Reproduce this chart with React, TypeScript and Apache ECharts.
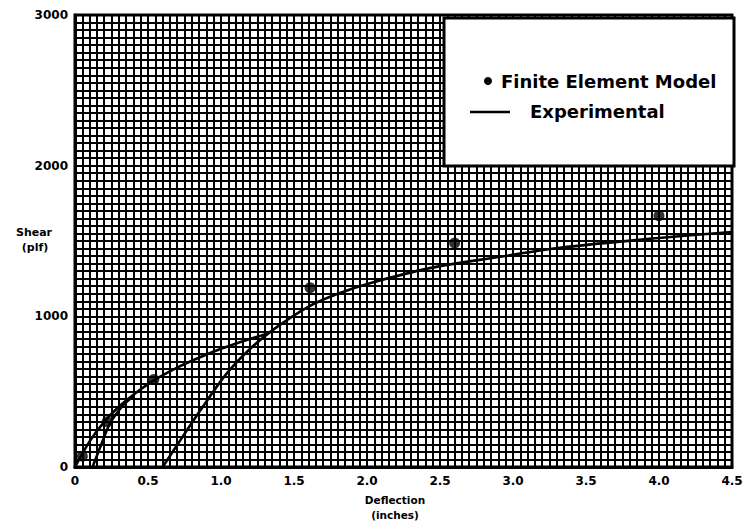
import React, { useEffect, useRef } from "react";
import * as echarts from "echarts";

// Finite Element Model (points)
const femX = [0.05, 0.22, 0.54, 1.61, 2.6, 4.0];
const femY = [72, 300, 580, 1190, 1486, 1668];

// Experimental curves (three branches)
const exp1X = [0, 0.1, 0.2, 0.3, 0.4, 0.54, 0.7, 0.86, 1.0, 1.15, 1.3];
const exp1Y = [0, 170, 300, 400, 480, 575, 660, 730, 785, 835, 880];

const exp2X = [0.12, 0.18, 0.24, 0.33, 0.4];
const exp2Y = [0, 150, 290, 410, 470];

const exp3X = [0.6, 0.73, 0.86, 1.03, 1.2, 1.37, 1.6, 1.8, 2.02, 2.43, 2.91, 3.32, 4.0, 4.5];
const exp3Y = [0, 190, 378, 610, 785, 920, 1065, 1150, 1220, 1320, 1395, 1455, 1520, 1560];

const xTickLabels = ["0", "0.5", "1.0", "1.5", "2.0", "2.5", "3.0", "3.5", "4.0", "4.5"];
const yTickLabels = ["0", "1000", "2000", "3000"];

const FONT = "DejaVu Sans";

function pairs(xs: number[], ys: number[]) {
  return xs.map((x, i) => [x, ys[i]]);
}

export default function App() {
  const ref = useRef<HTMLDivElement>(null);

  useEffect(() => {
    document.body.style.margin = "0";
    if (!ref.current) return;
    const chart = echarts.init(ref.current, undefined, { renderer: "svg" });
    const gridLine = { color: "#000", width: 2 };
    const lineSeries = (name: string, data: number[][]) => ({
      type: "line",
      name,
      data,
      smooth: 0.3,
      showSymbol: false,
      symbol: "none",
      lineStyle: { color: "#000", width: 2.6 },
      z: 5,
    });
    chart.setOption({
      animation: false,
      backgroundColor: "#fff",
      grid: {
        left: 75,
        right: 14,
        top: 15,
        bottom: 63,
        show: true,
        borderColor: "#000",
        borderWidth: 3,
      },
      xAxis: {
        type: "value",
        min: 0,
        max: 4.5,
        interval: 0.5,
        axisLine: { show: true, lineStyle: { color: "#000", width: 3 } },
        axisTick: { show: false },
        minorTick: { show: false, splitNumber: 10 },
        splitLine: { show: true, lineStyle: gridLine },
        minorSplitLine: { show: true, lineStyle: gridLine },
        axisLabel: {
          color: "#000",
          fontFamily: FONT,
          fontWeight: "bold",
          fontSize: 12,
          margin: 8,
          formatter: (v: number) => xTickLabels[Math.round(v / 0.5)] ?? "",
        },
      },
      yAxis: {
        type: "value",
        min: 0,
        max: 3000,
        interval: 1000,
        axisLine: { show: true, lineStyle: { color: "#000", width: 3 } },
        axisTick: { show: false },
        minorTick: { show: false, splitNumber: 20 },
        splitLine: { show: true, lineStyle: gridLine },
        minorSplitLine: { show: true, lineStyle: gridLine },
        axisLabel: {
          color: "#000",
          fontFamily: FONT,
          fontWeight: "bold",
          fontSize: 12,
          margin: 7,
          formatter: (v: number) => yTickLabels[Math.round(v / 1000)] ?? "",
        },
      },
      series: [
        lineSeries("Experimental", pairs(exp1X, exp1Y)),
        lineSeries("Experimental 2", pairs(exp2X, exp2Y)),
        lineSeries("Experimental 3", pairs(exp3X, exp3Y)),
        {
          type: "scatter",
          name: "Finite Element Model",
          data: pairs(femX, femY),
          symbol: "circle",
          symbolSize: 11,
          itemStyle: { color: "#000" },
          z: 6,
        },
      ],
      graphic: [
        {
          type: "rect",
          z: 100,
          shape: { x: 444, y: 18, width: 290, height: 148 },
          style: { fill: "#fff", stroke: "#000", lineWidth: 3 },
        },
        {
          type: "circle",
          z: 101,
          shape: { cx: 488, cy: 81, r: 4 },
          style: { fill: "#000" },
        },
        {
          type: "text",
          z: 101,
          x: 501,
          y: 81,
          style: {
            text: "Finite Element Model",
            fill: "#000",
            font: `bold 18px "${FONT}"`,
            verticalAlign: "middle",
            align: "left",
          },
        },
        {
          type: "line",
          z: 101,
          shape: { x1: 470, y1: 112, x2: 510, y2: 112 },
          style: { stroke: "#000", lineWidth: 2.5 },
        },
        {
          type: "text",
          z: 101,
          x: 530,
          y: 111,
          style: {
            text: "Experimental",
            fill: "#000",
            font: `bold 18px "${FONT}"`,
            verticalAlign: "middle",
            align: "left",
          },
        },
        {
          type: "text",
          x: 34,
          y: 232,
          style: {
            text: "Shear",
            fill: "#000",
            font: `bold 11px "${FONT}"`,
            align: "center",
            verticalAlign: "middle",
          },
        },
        {
          type: "text",
          x: 35,
          y: 247,
          style: {
            text: "(plf)",
            fill: "#000",
            font: `bold 11px "${FONT}"`,
            align: "center",
            verticalAlign: "middle",
          },
        },
        {
          type: "text",
          x: 395,
          y: 500,
          style: {
            text: "Deflection",
            fill: "#000",
            font: `bold 10.5px "${FONT}"`,
            align: "center",
            verticalAlign: "middle",
          },
        },
        {
          type: "text",
          x: 395,
          y: 515,
          style: {
            text: "(inches)",
            fill: "#000",
            font: `bold 10.5px "${FONT}"`,
            align: "center",
            verticalAlign: "middle",
          },
        },
      ],
    });
    return () => chart.dispose();
  }, []);

  return (
    <div
      ref={ref}
      style={{ position: "absolute", left: 0, top: 0, width: 746, height: 530 }}
    />
  );
}
